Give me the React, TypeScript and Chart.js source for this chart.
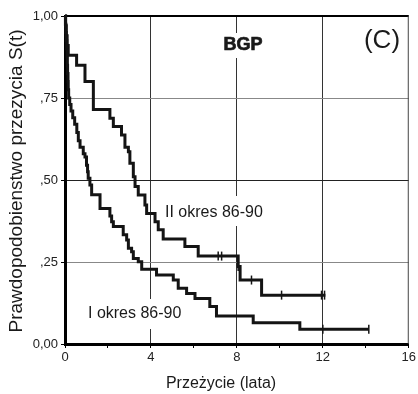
import React, { useEffect, useRef } from "react";
import { Chart, registerables } from "chart.js";

Chart.register(...registerables);

// ---- data (Kaplan–Meier step curves) ----
const timesI = [0, 0.02, 0.04, 0.06, 0.08, 0.1, 0.11, 0.12, 0.14, 0.15, 0.17, 0.22, 0.28, 0.36, 0.45, 0.55, 0.62, 0.7, 0.85, 0.93, 1.0, 1.05, 1.08, 1.16, 1.24, 1.63, 2.09, 2.17, 2.25, 2.71, 2.87, 2.95, 3.1, 3.18, 3.41, 3.57, 4.26, 5.04, 5.27, 5.66, 6.05, 6.74, 7.05, 8.76, 10.93, 14.14];
const survI = [1, 0.975, 0.95, 0.925, 0.9, 0.875, 0.85, 0.825, 0.8, 0.775, 0.75, 0.73, 0.71, 0.69, 0.67, 0.645, 0.62, 0.6, 0.58, 0.57, 0.545, 0.525, 0.505, 0.485, 0.455, 0.413, 0.39, 0.373, 0.358, 0.333, 0.317, 0.292, 0.281, 0.261, 0.251, 0.228, 0.21, 0.195, 0.17, 0.154, 0.139, 0.114, 0.085, 0.065, 0.045, 0.045];

const timesII = [0, 0.03, 0.06, 0.1, 0.15, 0.54, 0.93, 1.32, 2.09, 2.25, 2.63, 2.79, 2.95, 3.02, 3.18, 3.26, 3.41, 3.72, 3.8, 4.19, 4.34, 4.57, 5.58, 6.2, 8.06, 8.15, 9.15, 12.12];
const survII = [1, 0.97, 0.94, 0.91, 0.88, 0.85, 0.8, 0.715, 0.688, 0.663, 0.637, 0.6, 0.586, 0.551, 0.51, 0.48, 0.454, 0.424, 0.398, 0.373, 0.348, 0.32, 0.297, 0.268, 0.236, 0.195, 0.149, 0.149];

const censorTimesI = [12.0, 14.14];
const censorSurvI = [0.045, 0.045];
const censorTimesII = [7.13, 7.29, 8.06, 8.68, 10.08, 11.94, 12.08];
const censorSurvII = [0.268, 0.268, 0.236, 0.195, 0.149, 0.149, 0.149];

const yTickValues = [0, 0.25, 0.5, 0.75, 1];
const yTickLabels = ["0,00", ",25", ",50", ",75", "1,00"];
const xLabelEvery = 4;

const labelI = "I okres 86-90";
const labelII = "II okres 86-90";
const groupTitle = "BGP";
const panelTag = "(C)";
const xTitle = "Przeżycie (lata)";
const yTitle = "Prawdopodobienstwo przezycia S(t)";

const FONT = "'Liberation Sans', Arial, Helvetica, sans-serif";

const textPlugin = {
  id: "kmTexts",
  beforeDatasetsDraw(chart: any) {
    const ctx = chart.ctx as CanvasRenderingContext2D;
    const { left, right, top, bottom } = chart.chartArea;
    ctx.save();
    // top and right frame
    ctx.strokeStyle = "#000";
    ctx.lineWidth = 2;
    ctx.beginPath();
    ctx.moveTo(left, top);
    ctx.lineTo(right, top);
    ctx.stroke();
    ctx.strokeStyle = "#444";
    ctx.lineWidth = 1;
    ctx.beginPath();
    ctx.moveTo(right - 0.5, top);
    ctx.lineTo(right - 0.5, bottom);
    ctx.stroke();

    ctx.fillStyle = "#fff";
    ctx.fillRect(218, 33, 50, 25);
    ctx.fillRect(161, 196, 110, 30);
    ctx.fillRect(84, 299, 100, 30);

    ctx.fillStyle = "#1a1a1a";
    ctx.strokeStyle = "#1a1a1a";
    ctx.textBaseline = "middle";
    ctx.textAlign = "center";
    ctx.font = `bold 18px ${FONT}`;
    ctx.lineWidth = 0.7;
    ctx.fillText(groupTitle, 243, 45.5);
    ctx.strokeText(groupTitle, 243, 45.5);

    ctx.textBaseline = "alphabetic";
    ctx.font = `26px ${FONT}`;
    ctx.fillText(panelTag, 382, 48);

    ctx.textBaseline = "middle";
    ctx.textAlign = "left";
    ctx.font = `16px ${FONT}`;
    ctx.fillText(labelII, 165, 213);
    ctx.fillText(labelI, 88, 314);

    ctx.textAlign = "center";
    ctx.textBaseline = "alphabetic";
    ctx.font = `16px ${FONT}`;
    ctx.fillText(xTitle, 221, 388);

    ctx.translate(22, 181);
    ctx.rotate(-Math.PI / 2);
    ctx.font = `19px ${FONT}`;
    ctx.fillText(yTitle, 0, 0);
    ctx.restore();
  },
};

export default function App() {
  const ref = useRef<HTMLCanvasElement | null>(null);

  useEffect(() => {
    document.body.style.margin = "0";
    const canvas = ref.current;
    if (!canvas) return;

    const lineI = timesI.map((t, i) => ({ x: t, y: survI[i] }));
    const lineII = timesII.map((t, i) => ({ x: t, y: survII[i] }));
    const cI = censorTimesI.map((t, i) => ({ x: t, y: censorSurvI[i] }));
    const cII = censorTimesII.map((t, i) => ({ x: t, y: censorSurvII[i] }));

    const lineStyle = {
      borderColor: "#141414",
      borderWidth: 3,
      stepped: "before" as const,
      pointRadius: 0,
      fill: false,
      clip: false as any,
    };
    const censorStyle = {
      showLine: false,
      pointStyle: "line" as const,
      rotation: 90,
      pointRadius: 4.5,
      pointBorderWidth: 1.5,
      pointBorderColor: "#141414",
      pointBackgroundColor: "#141414",
      clip: false as any,
    };

    const chart = new Chart(canvas, {
      type: "line",
      data: {
        datasets: [
          { label: labelI, data: lineI, ...lineStyle },
          { label: labelII, data: lineII, ...lineStyle },
          { label: "censI", data: cI, ...censorStyle },
          { label: "censII", data: cII, ...censorStyle },
        ],
      },
      options: {
        responsive: false,
        animation: false,
        maintainAspectRatio: false,
        layout: { padding: { top: 16, right: 9, left: 0, bottom: 0 } },
        plugins: { legend: { display: false }, tooltip: { enabled: false } },
        scales: {
          x: {
            type: "linear",
            min: 0,
            max: 16,
            ticks: {
              stepSize: 2,
              autoSkip: false,
              maxRotation: 0,
              padding: 2,
              color: "#222",
              font: { family: FONT, size: 13 },
              callback: (v: any) => (Number(v) % xLabelEvery === 0 ? String(v) : ""),
            },
            grid: {
              color: (c: any) => {
                const v = c.tick ? c.tick.value : -1;
                return v > 0 && v < 16 && v % xLabelEvery === 0 ? "#333" : "rgba(0,0,0,0)";
              },
              lineWidth: 1,
              tickColor: "#000",
              tickLength: 4,
              drawTicks: true,
            },
            border: { display: true, color: "#000", width: 3 },
            afterFit: (s: any) => {
              s.height = 50;
            },
          },
          y: {
            type: "linear",
            min: 0,
            max: 1,
            afterBuildTicks: (s: any) => {
              s.ticks = yTickValues.map((v) => ({ value: v }));
            },
            ticks: {
              padding: 3,
              color: "#222",
              font: { family: FONT, size: 13 },
              callback: (v: any) => {
                const i = yTickValues.indexOf(Number(v));
                return i >= 0 ? yTickLabels[i] : "";
              },
            },
            grid: {
              color: (c: any) => {
                const v = c.tick ? c.tick.value : -1;
                if (v <= 0 || v >= 1) return "rgba(0,0,0,0)";
                return v === 0.5 ? "#222" : "#888";
              },
              lineWidth: 1,
              tickColor: "#000",
              tickLength: 4,
            },
            border: { display: true, color: "#000", width: 3 },
            afterFit: (s: any) => {
              s.width = 65;
            },
          },
        },
      },
      plugins: [textPlugin],
    });

    return () => chart.destroy();
  }, []);

  return (
    <canvas
      ref={ref}
      width={418}
      height={394}
      style={{ display: "block", width: 418, height: 394 }}
    />
  );
}
